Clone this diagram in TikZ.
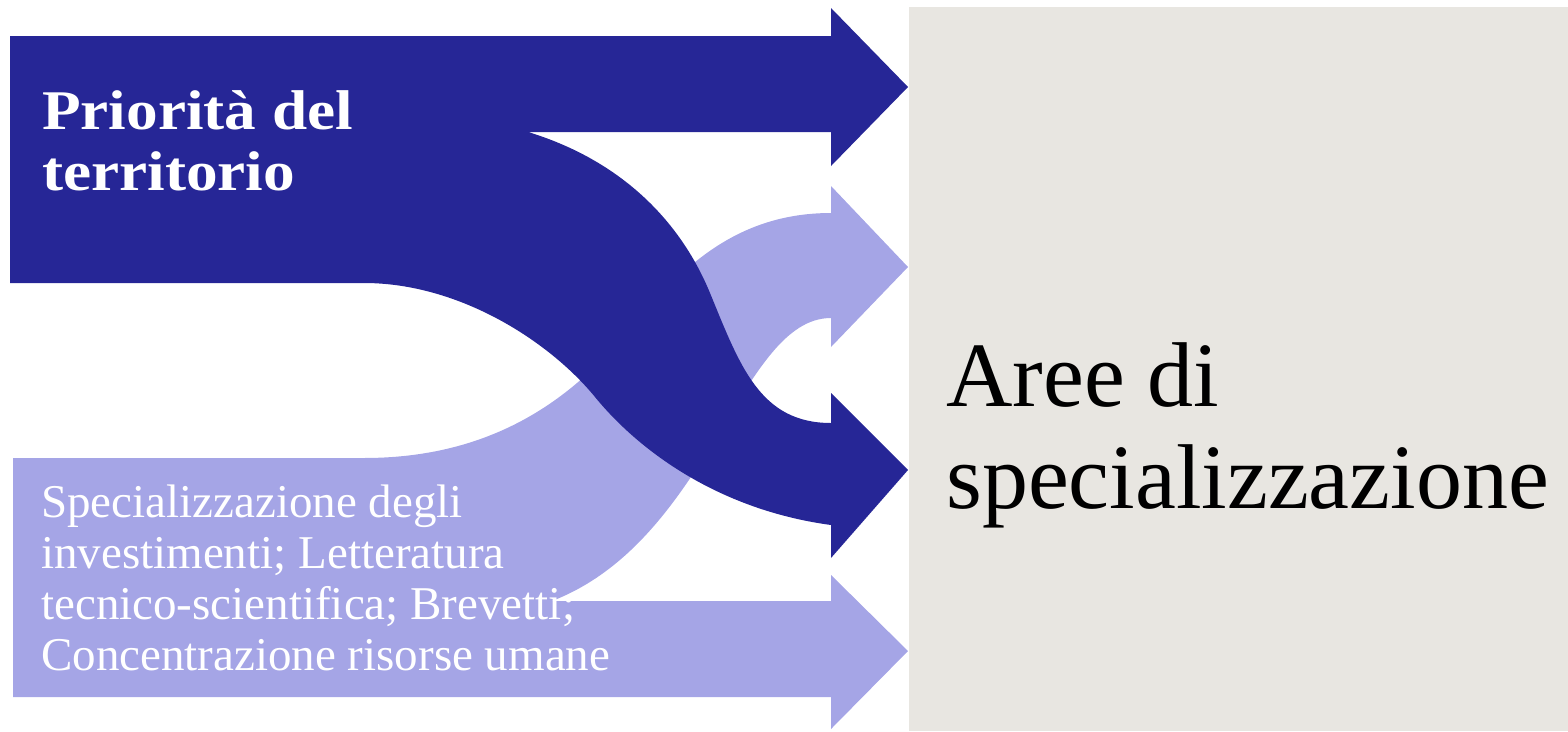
\documentclass[tikz,border=0pt]{standalone}
\usepackage{fontspec}
\setmainfont{Liberation Serif}
\newfontfamily\titlefont[FakeStretch=1.13]{Liberation Serif}
\definecolor{darkflow}{RGB}{38,38,150}
\definecolor{lightflow}{RGB}{165,165,230}
\definecolor{areagray}{RGB}{232,230,225}
\tikzset{
  darkshape/.style={fill=darkflow, draw=none},
  lightshape/.style={fill=lightflow, draw=none},
  titletext/.style={anchor=base west, inner sep=0pt, text=white, font=\titlefont\bfseries\fontsize{56}{61}\selectfont},
  smalltext/.style={anchor=base west, inner sep=0pt, text=white, font=\fontsize{47}{51}\selectfont},
  bigtext/.style={anchor=base west, inner sep=0pt, text=black, font=\fontsize{92}{102}\selectfont},
}
\begin{document}
\begin{tikzpicture}[x=1pt,y=-1pt]
\useasboundingbox (0,0) rectangle (1568,731);
% target area
\fill[areagray] (909,7) rectangle (1568,731);
% light flow (bottom box, straight lower arrow, curved upper arrow)
\fill[lightshape] (13,458) -- (364,458)
  .. controls (480,458) and (560,410) .. (620,340)
  .. controls (670,282) and (725,213) .. (831,213)
  -- (831,186) -- (908,267) -- (831,347) -- (831,318)
  .. controls (740,318) and (710,540) .. (552,601)
  -- (831,601) -- (831,575) -- (908,651) -- (831,729) -- (831,697)
  -- (13,697) -- cycle;
% dark flow (top box, straight upper arrow, curved lower arrow)
\fill[darkshape] (10,36) -- (831,36) -- (831,8) -- (908,87) -- (831,166) -- (831,132)
  -- (528,132)
  .. controls (620,160) and (680,220) .. (710,293)
  .. controls (740,366) and (760,423) .. (831,423)
  -- (831,393) -- (908,470) -- (831,558) -- (831,525)
  .. controls (720,510) and (640,452) .. (595,397)
  .. controls (550,342) and (460,283) .. (364,283)
  -- (10,283) -- cycle;
% texts
\node[titletext] (t1) at (42,129) {Priorità del};
\node[titletext] (t2) at (42,190) {territorio};
\node[smalltext] (s1) at (41,517) {Specializzazione degli};
\node[smalltext] (s2) at (41,568) {investimenti; Letteratura};
\node[smalltext] (s3) at (41,619) {tecnico-scientifica; Brevetti;};
\node[smalltext] (s4) at (41,670) {Concentrazione risorse umane};
\node[bigtext] (a1) at (946,406) {Aree di};
\node[bigtext] (a2) at (946,508) {specializzazione};
\end{tikzpicture}
\end{document}
